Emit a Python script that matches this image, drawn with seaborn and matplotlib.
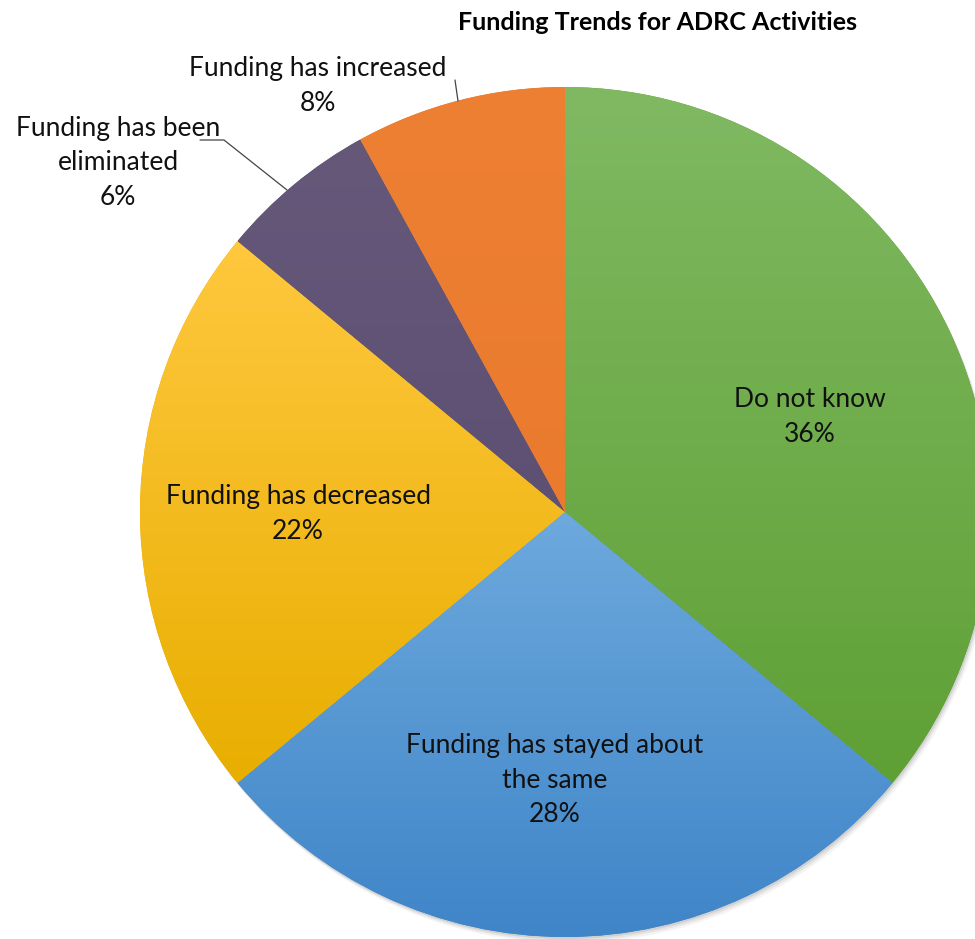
import numpy as np
import seaborn as sns
import matplotlib.pyplot as plt
from matplotlib.colors import LinearSegmentedColormap
from matplotlib.patches import Circle

categories = ["Do not know", "Funding has stayed about\nthe same", "Funding has decreased",
              "Funding has been\neliminated", "Funding has increased"]
shares = [36, 28, 22, 6, 8]
top_colors = ["#80B962", "#6DA9DD", "#FFC83E", "#665879", "#EE8034"]
bottom_colors = ["#5FA035", "#3F85C8", "#E8AE00", "#5E5073", "#E97A2E"]

sns.set_theme(style="white")
plt.rcParams["font.family"] = ["Lato", "DejaVu Sans"]

fig = plt.figure(figsize=(9.75, 9.39), dpi=100)
ax = fig.add_axes([0, 0, 1, 1])

cx, cy, r = 565, 939 - 512, 425

# soft shadow behind the pie
for k, a in [(6, 0.08), (4, 0.12), (2, 0.18)]:
    ax.add_patch(Circle((cx + k * 0.6, cy - k), r, color="#777777", alpha=a, lw=0, zorder=0))

wedges, _ = ax.pie(shares, startangle=90, counterclock=False, center=(cx, cy), radius=r,
                   colors=bottom_colors, wedgeprops=dict(linewidth=0))

# vertical gradient inside each slice
for w, c0, c1 in zip(wedges, top_colors, bottom_colors):
    ext = w.get_path().get_extents()
    cmap = LinearSegmentedColormap.from_list("g", [c1, c0])
    grad = np.linspace(0, 1, 256).reshape(-1, 1)
    im = ax.imshow(grad, cmap=cmap, origin="lower", aspect="auto",
                   extent=[ext.x0, ext.x1, ext.y0, ext.y1], zorder=2)
    im.set_clip_path(w)

ax.set_xlim(0, 975)
ax.set_ylim(0, 939)
ax.axis("off")

fs = 19
ls = 1.48
inside = {0: (810, 417), 1: (555, 780), 2: (298, 514)}
for i, (x, y) in inside.items():
    ax.text(x, 939 - y, f"{categories[i]}\n{shares[i]}%", ha="center", va="center",
            fontsize=fs, color="#111111", linespacing=ls, zorder=5)

ax.text(118, 939 - 163, f"{categories[3]}\n{shares[3]}%", ha="center", va="center",
        fontsize=fs, color="#111111", linespacing=ls, zorder=5)
ax.plot([200, 224, 287], [939 - 140, 939 - 140, 939 - 190], color="#444444", lw=0.9, zorder=5)

ax.text(318, 939 - 86, f"{categories[4]}\n{shares[4]}%", ha="center", va="center",
        fontsize=fs, color="#111111", linespacing=ls, zorder=5)
ax.plot([455, 458], [939 - 80, 939 - 101], color="#444444", lw=0.9, zorder=5)

fig.text(658 / 975, 1 - 23 / 939, "Funding Trends for ADRC Activities", ha="center", va="center",
         fontsize=18, fontweight="bold", color="#000000")

fig.savefig("out.png", dpi=100)
